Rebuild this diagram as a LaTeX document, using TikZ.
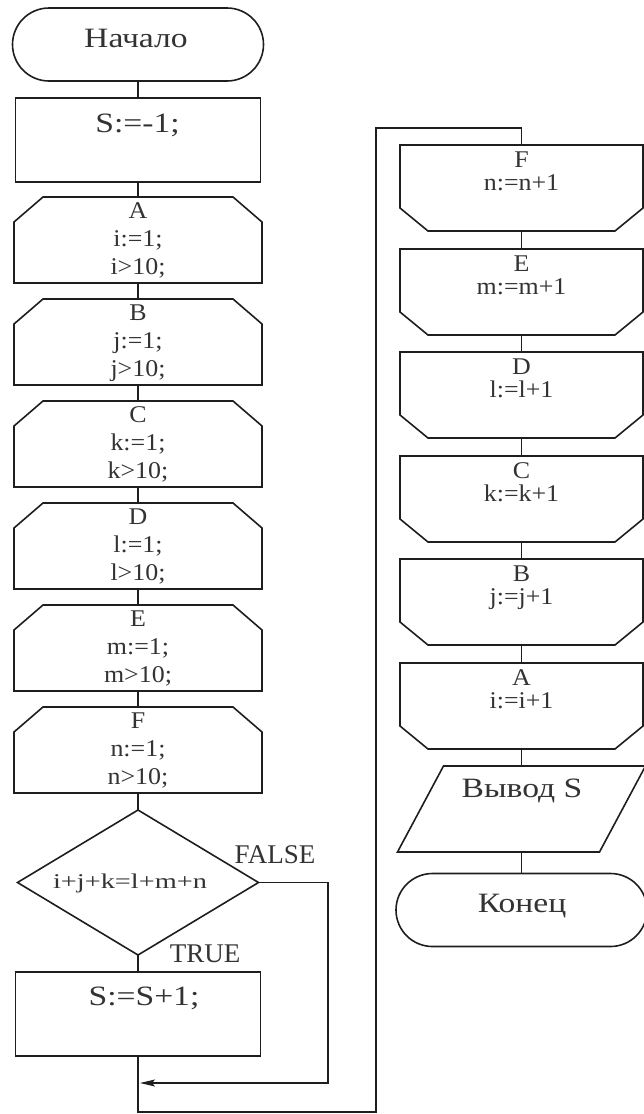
\documentclass[tikz,border=0pt]{standalone}
\usepackage{fontspec}
\setmainfont{Liberation Serif}
\newfontfamily\wideserif[FakeStretch=1.2]{Liberation Serif}
\newfontfamily\hexserif[FakeStretch=1.08]{Liberation Serif}
\newfontfamily\condserif[FakeStretch=1.35]{Liberation Serif}
\usetikzlibrary{shapes.misc,shapes.geometric,arrows.meta}
\definecolor{ink}{HTML}{1E1E1E}
\definecolor{txt}{HTML}{333333}

\begin{document}
\begin{tikzpicture}[x=1pt,y=-1pt,
  outline/.style={draw=ink,line width=1.6pt,inner sep=0pt,outer sep=0pt},
  frame/.style={rectangle,inner sep=0pt,outer sep=0pt},
  term/.style={outline,rounded rectangle,minimum width=251pt,minimum height=73pt},
  proc/.style={outline,rectangle,minimum width=245pt,minimum height=84pt},
  openframe/.style={frame,minimum width=248pt,minimum height=86pt},
  closeframe/.style={frame,minimum width=243pt,minimum height=86pt},
  decision/.style={outline,diamond,minimum width=241pt,minimum height=145pt},
  ioframe/.style={frame,minimum width=248pt,minimum height=86pt},
  bigtext/.style={anchor=base,inner sep=0pt,text=txt,font=\wideserif\fontsize{28}{30}\selectfont},
  hextext/.style={anchor=base,inner sep=0pt,text=txt,font=\hexserif\fontsize{24}{26}\selectfont},
  condtext/.style={anchor=base,inner sep=0pt,text=txt,font=\condserif\fontsize{21}{23}\selectfont},
  branchtext/.style={anchor=base,inner sep=0pt,text=txt,font=\fontsize{27}{29}\selectfont},
  flow/.style={draw=ink,line width=1.6pt}]

\useasboundingbox (0,0) rectangle (644,1114);

% ---------- left column: start, initialisation, loop openings ----------
\node[term] (start) at (138,44.5) {};
\node[bigtext] (startlbl) at (136,47) {Начало};

\node[proc] (init) at (138,140) {};
\node[bigtext] (initlbl) at (137.5,132) {S:=-1;};

% loop openings: hexagons with the two upper corners cut off
\foreach \n/\v/\t in {A/i/197,B/j/299,C/k/401,D/l/503,E/m/605,F/n/707}{
  \node[openframe] (open\n) at (138,\t+43) {};
  \draw[outline] (open\n.south west) -- ([yshift=-25pt]open\n.north west)
    -- ([xshift=29pt]open\n.north west) -- ([xshift=-29pt]open\n.north east)
    -- ([yshift=-25pt]open\n.north east) -- (open\n.south east) -- cycle;
  \node[hextext] (open\n-name) at (138,\t+21) {\n};
  \node[hextext] (open\n-init) at (138,\t+49) {\v:=1;};
  \node[hextext] (open\n-test) at (138,\t+77) {\v>10;};
}

% ---------- condition and counter update ----------
\node[decision] (cond) at (138,882.5) {};
\node[condtext] (condlbl) at (130,888) {i+j+k=l+m+n};
\node[branchtext] (falselbl) at (275,863) {FALSE};
\node[branchtext] (truelbl) at (205,962) {TRUE};

\node[proc] (inc) at (138,1014) {};
\node[bigtext] (inclbl) at (144,1005) {S:=S+1;};

% ---------- right column: loop closings, output, end ----------
% loop closings: hexagons with the two lower corners cut off
\foreach \n/\v/\t in {F/n/145,E/m/249,D/l/352,C/k/456,B/j/559,A/i/663}{
  \node[closeframe] (close\n) at (521.5,\t+43) {};
  \draw[outline] (close\n.north west) -- ([yshift=23pt]close\n.south west)
    -- ([xshift=28pt]close\n.south west) -- ([xshift=-28pt]close\n.south east)
    -- ([yshift=23pt]close\n.south east) -- (close\n.north east) -- cycle;
  \node[hextext] (close\n-name) at (521.5,\t+22) {\n};
  \node[hextext] (close\n-step) at (521.5,\t+45) {\v:=\v+1};
}

% output block: a slanted parallelogram
\node[ioframe] (out) at (521.5,809) {};
\draw[outline] ([xshift=46pt]out.north west) -- (out.north east)
  -- ([xshift=-46pt]out.south east) -- (out.south west) -- cycle;
\node[bigtext] (outlbl) at (522,797) {Вывод S};

\node[term] (stop) at (521.5,910) {};
\node[bigtext] (stoplbl) at (522,912) {Конец};

% ---------- connectors ----------
\draw[flow] (start.south) -- (init.north);
\draw[flow] (init.south) -- (openA.north);
\draw[flow] (openA.south) -- (openB.north);
\draw[flow] (openB.south) -- (openC.north);
\draw[flow] (openC.south) -- (openD.north);
\draw[flow] (openD.south) -- (openE.north);
\draw[flow] (openE.south) -- (openF.north);
\draw[flow] (openF.south) -- (cond.north);
\draw[flow] (cond.south) -- (inc.north);

\coordinate (falseturn) at (328,882.5);
\coordinate (falsedown) at (328,1083);
\coordinate (merge) at (140,1083);
\draw[flow,-{Stealth[length=15pt,width=7pt,inset=3pt]}]
  (cond.east) -- (falseturn) -- (falsedown) -- (merge);

\coordinate (loopbottom) at (138,1112);
\coordinate (loopcorner) at (376,1112);
\coordinate (looptop) at (376,128);
\coordinate (loopentry) at (521.5,128);
\draw[flow] (inc.south) -- (loopbottom) -- (loopcorner)
  -- (looptop) -- (loopentry) -- (closeF.north);

\draw[flow] (closeF.south) -- (closeE.north);
\draw[flow] (closeE.south) -- (closeD.north);
\draw[flow] (closeD.south) -- (closeC.north);
\draw[flow] (closeC.south) -- (closeB.north);
\draw[flow] (closeB.south) -- (closeA.north);
\draw[flow] (closeA.south) -- (out.north);
\draw[flow] (out.south) -- (stop.north);
\end{tikzpicture}
\end{document}
